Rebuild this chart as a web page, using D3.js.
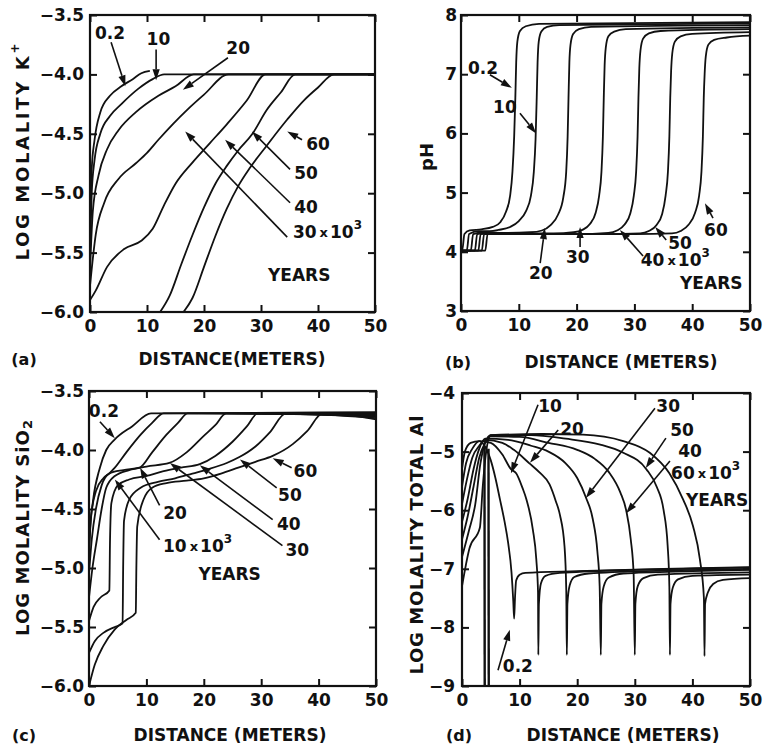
<!DOCTYPE html>
<html><head><meta charset="utf-8">
<script src="https://cdn.jsdelivr.net/npm/d3@7"></script>
<style>
body{margin:0;background:#fff}
svg text{font-family:"DejaVu Sans",Arial,sans-serif;font-weight:bold;fill:#111}
</style></head><body>
<svg id="chart" width="766" height="746"></svg>
<script>
// ---------------- DATA ----------------
const xTicks = [0, 10, 20, 30, 40, 50];
const yearLabels = ["0.2", "10", "20", "30", "40", "50", "60"];

// (a) log molality K+
const kTicks = [-6.0, -5.5, -5.0, -4.5, -4.0, -3.5];
const k02 = [[0,-5.25],[0.3,-4.8],[0.8,-4.55],[1.8,-4.32],[3.5,-4.18],[5.5,-4.1],[7.5,-4.04],[9,-3.99],[10.5,-3.97]];
const k10 = [[0,-5.5],[0.3,-5.0],[0.8,-4.72],[1.8,-4.5],[3.5,-4.35],[5.5,-4.25],[8.5,-4.12],[11,-4.04],[13,-4.0],[50,-4.0]];
const k20 = [[0,-5.65],[0.5,-5.15],[1.5,-4.85],[3,-4.63],[5,-4.47],[8,-4.32],[12,-4.18],[15,-4.1],[18.2,-4.0],[50,-4.0]];
const k30 = [[0,-5.78],[1,-5.35],[2.5,-5.08],[5,-4.88],[8,-4.75],[10,-4.66],[12,-4.55],[14.5,-4.42],[17,-4.3],[20,-4.17],[24.3,-4.0],[50,-4.0]];
const k40 = [[0,-5.9],[1,-5.82],[3,-5.62],[6,-5.47],[9,-5.4],[11,-5.3],[13,-5.1],[15,-4.92],[18,-4.74],[21,-4.58],[24,-4.42],[27.5,-4.22],[30.8,-4.0],[50,-4.0]];
const k50 = [[12.3,-6.0],[14,-5.86],[16,-5.6],[18,-5.35],[20,-5.12],[22,-4.92],[24,-4.77],[26,-4.64],[28.5,-4.5],[31,-4.3],[33.5,-4.15],[36,-4.0],[50,-4.0]];
const k60 = [[16.4,-6.0],[18,-5.88],[20,-5.62],[22,-5.36],[24,-5.13],[26,-4.94],[28,-4.79],[31,-4.6],[34.6,-4.38],[37.5,-4.22],[40,-4.11],[42.8,-4.0],[50,-4.0]];
const kCurves = [k02, k10, k20, k30, k40, k50, k60];

// (b) pH
const phTicks = [3, 4, 5, 6, 7, 8];
const p02 = [[0,4.02],[0.2,4.02],[0.6,4.3],[1.5,4.36],[3.5,4.38],[5.5,4.42],[6.8,4.5],[7.8,4.68],[8.5,4.95],[8.9,5.35],[9.2,5.95],[9.4,6.6],[9.55,7.2],[9.75,7.55],[10.2,7.73],[11.2,7.81],[13.5,7.85],[50,7.88]];
const p10 = [[0,4.02],[1.0,4.02],[1.4,4.3],[3,4.35],[5,4.35],[6.5,4.37],[8.5,4.42],[10,4.52],[11.2,4.68],[12.1,4.95],[12.6,5.35],[12.9,5.9],[13.1,6.6],[13.25,7.2],[13.45,7.55],[13.9,7.72],[14.9,7.8],[17,7.83],[50,7.86]];
const p20 = [[0,4.02],[1.7,4.02],[2.1,4.3],[4,4.33],[8,4.32],[12,4.33],[14,4.36],[15.5,4.45],[16.8,4.63],[17.7,4.92],[18.2,5.35],[18.45,5.95],[18.6,6.6],[18.75,7.2],[18.95,7.5],[19.4,7.68],[20.4,7.76],[22.5,7.8],[50,7.83]];
const p30 = [[0,4.02],[2.4,4.02],[2.8,4.3],[5,4.32],[10,4.31],[16,4.31],[19.5,4.33],[21,4.37],[22.3,4.47],[23.3,4.66],[23.9,4.95],[24.3,5.35],[24.55,5.95],[24.7,6.6],[24.85,7.15],[25.05,7.45],[25.5,7.64],[26.5,7.72],[28.5,7.76],[50,7.79]];
const p40 = [[0,4.02],[3.0,4.02],[3.4,4.3],[6,4.31],[12,4.3],[20,4.3],[25.5,4.32],[27,4.36],[28.3,4.46],[29.3,4.65],[29.9,4.95],[30.3,5.35],[30.55,5.95],[30.7,6.6],[30.85,7.1],[31.05,7.4],[31.5,7.6],[32.5,7.69],[34.5,7.73],[50,7.76]];
const p50 = [[0,4.02],[3.6,4.02],[4.0,4.3],[7,4.3],[15,4.3],[25,4.3],[31,4.31],[32.5,4.35],[33.8,4.45],[34.8,4.64],[35.4,4.95],[35.8,5.35],[36.05,5.95],[36.2,6.6],[36.35,7.05],[36.55,7.35],[37,7.55],[38,7.64],[40,7.68],[50,7.71]];
const p60 = [[0,4.02],[4.2,4.02],[4.6,4.3],[8,4.3],[20,4.3],[30,4.3],[36.5,4.31],[38,4.35],[39.4,4.46],[40.5,4.66],[41.2,4.95],[41.6,5.35],[41.85,5.95],[42,6.6],[42.15,7.0],[42.35,7.3],[42.8,7.5],[43.8,7.58],[46,7.62],[50,7.65]];
const phCurves = [p02, p10, p20, p30, p40, p50, p60];

// (c) log molality SiO2
const siTicks = [-6.0, -5.5, -5.0, -4.5, -4.0, -3.5];
const s02 = [[0,-4.95],[0.15,-4.7],[0.7,-4.43],[1.9,-4.15],[3,-4.0],[4.5,-3.91],[7.5,-3.8],[10.8,-3.69],[50,-3.68]];
const s10 = [[0,-4.85],[0.4,-4.55],[1.2,-4.35],[2.5,-4.24],[3.5,-4.2],[4.5,-4.15],[6.5,-4.02],[9,-3.87],[11,-3.77],[13,-3.69],[50,-3.69]];
const s20 = [[0,-5.05],[0.5,-4.75],[1.2,-4.5],[2.2,-4.3],[3.5,-4.2],[6,-4.17],[8.8,-4.15],[11,-4.02],[13.5,-3.87],[15.5,-3.77],[17.2,-3.69],[50,-3.7]];
const s30 = [[0,-5.25],[0.6,-5.0],[1.4,-4.75],[2.2,-4.5],[3,-4.32],[4.5,-4.22],[7,-4.17],[10,-4.14],[14,-4.11],[17,-4.02],[20,-3.88],[22,-3.79],[23.9,-3.69],[50,-3.71]];
const s40 = [[0,-5.45],[0.8,-5.33],[2,-5.25],[3.55,-5.19],[3.65,-4.8],[3.9,-4.45],[5,-4.3],[7,-4.25],[10,-4.22],[13,-4.18],[16,-4.15],[19.3,-4.12],[22,-4.05],[25,-3.93],[27.5,-3.8],[29.4,-3.69],[50,-3.72]];
const s50 = [[0,-5.72],[1,-5.62],[2.5,-5.55],[4.5,-5.5],[5.85,-5.47],[5.95,-5.0],[6.1,-4.6],[7,-4.42],[9,-4.32],[12,-4.27],[15,-4.24],[18,-4.2],[21,-4.16],[24,-4.11],[26.2,-4.06],[29,-3.97],[31.5,-3.85],[34.3,-3.69],[50,-3.73]];
const s60 = [[0,-6.0],[1,-5.82],[2.5,-5.66],[4.5,-5.52],[6.5,-5.44],[8.15,-5.38],[8.25,-5.0],[8.4,-4.65],[9.5,-4.42],[11,-4.32],[13.5,-4.28],[17,-4.26],[20,-4.24],[23,-4.2],[26,-4.15],[29,-4.1],[32,-4.05],[35.5,-3.95],[38,-3.84],[40.7,-3.69],[50,-3.74]];
const siCurves = [s02, s10, s20, s30, s40, s50, s60];

// (d) log molality total Al
const alTicks = [-9, -8, -7, -6, -5, -4];
const a02 = [[0,-5.3],[0.5,-5.0],[1.5,-4.85],[3,-4.82],[4.2,-4.95],[5,-5.15],[5.8,-5.45],[6.6,-5.82],[7.4,-6.2],[8.0,-6.55],[8.6,-7.07],[8.9,-7.55],[9.05,-7.85],[9.2,-7.5],[9.4,-7.2],[10,-7.1],[11,-7.07],[20,-7.04],[35,-7.0],[50,-6.97]];
const a10 = [[0,-5.6],[0.7,-5.2],[1.8,-4.95],[3,-4.82],[5,-4.85],[7,-5.05],[8.5,-5.3],[9.4,-5.37],[10.5,-5.62],[11.2,-5.82],[12.3,-6.33],[12.9,-6.84],[13.2,-7.4],[13.25,-8.47],[13.35,-7.6],[13.7,-7.25],[14.5,-7.12],[17,-7.07],[30,-7.02],[50,-6.98]];
const a20 = [[0,-5.9],[0.8,-5.5],[1.8,-5.1],[3,-4.9],[4,-4.8],[7,-4.85],[9,-4.97],[11.7,-5.2],[13.5,-5.36],[15.2,-5.56],[16.3,-5.85],[17,-6.08],[17.8,-6.62],[18.1,-7.36],[18.2,-8.47],[18.3,-7.6],[18.7,-7.28],[19.5,-7.14],[22,-7.08],[35,-7.03],[50,-7.0]];
const a30 = [[0,-6.2],[1,-5.8],[2,-5.3],[3,-4.95],[4,-4.78],[8,-4.8],[12,-4.9],[15,-5.0],[18,-5.2],[20,-5.45],[21.5,-5.78],[22.7,-6.15],[23.5,-6.7],[23.9,-7.3],[24.1,-8.47],[24.2,-7.6],[24.6,-7.3],[25.5,-7.15],[28,-7.08],[40,-7.04],[50,-7.02]];
const a40 = [[0,-6.5],[1,-6.1],[2,-5.6],[3,-5.1],[4,-4.85],[5,-4.74],[10,-4.75],[15,-4.85],[20,-4.97],[23,-5.12],[25.5,-5.35],[27.5,-5.7],[28.5,-6.0],[29.3,-6.5],[29.8,-7.1],[30,-8.47],[30.1,-7.6],[30.5,-7.3],[31.5,-7.16],[34,-7.1],[50,-7.06]];
const a50 = [[0,-6.8],[1.2,-6.35],[2.3,-5.9],[3.2,-5.2],[4,-4.85],[5,-4.72],[12,-4.72],[18,-4.78],[24,-4.88],[28,-5.02],[32,-5.3],[33.8,-5.6],[35,-6.0],[35.7,-6.6],[36,-7.3],[36.1,-8.47],[36.2,-7.6],[36.6,-7.32],[37.5,-7.18],[40,-7.12],[50,-7.1]];
const a60 = [[0,-7.3],[1.3,-6.65],[3.1,-6.3],[3.6,-5.6],[4.2,-5.0],[5,-4.72],[14,-4.7],[21,-4.71],[28,-4.82],[32.6,-5.02],[36,-5.37],[38.4,-5.82],[40.1,-6.27],[41.3,-6.84],[42,-7.5],[42.1,-8.49],[42.2,-7.6],[42.7,-7.4],[43.6,-7.26],[45.3,-7.19],[50,-7.16]];
const alSpikeA = [[3.9,-4.9],[3.95,-9.6]];
const alSpikeB = [[4.6,-4.95],[4.65,-9.6]];
const alCurves = [a02, a10, a20, a30, a40, a50, a60];

// ---------------- LAYOUT ----------------
const panels = [
  { box:{l:90,r:375,t:15,b:312}, yDom:[-6,-3.5], yTicks:kTicks, yFmt:d3.format(".1f"), yPad:6,
    curves:kCurves, straight:[], tag:"(a)", xTitleX:232, xTitle:"DISTANCE(METERS)", titleY:365, tagX:24,
    yTitle:[{t:"LOG MOLALITY K"},{t:"+",sup:true}], yTitleX:22, yTitleY:152, yTitleLen:217,
    notes:[
      {t:"0.2", at:[3.5,-3.65], from:[3.7,-3.73], to:[6.2,-4.1]},
      {t:"10", at:[12.0,-3.7], from:[11.6,-3.79], to:[11.6,-4.05]},
      {t:"20", at:[26,-3.78], from:[24.2,-3.86], to:[16.3,-4.13]},
      {t:"60", at:[40,-4.59], from:[37.2,-4.55], to:[34.6,-4.48]},
      {t:"50", at:[37.9,-4.83], from:[35.1,-4.8], to:[28.4,-4.48]},
      {t:"40", at:[37.9,-5.12], from:[35.1,-5.08], to:[23.7,-4.55]},
      {t:"30", mult:true, at:[35.6,-5.33], anchor:"start", from:[34.6,-5.37], to:[16.7,-4.48]},
      {t:"YEARS", at:[36.7,-5.69]}
    ]},
  { box:{l:461,r:750,t:15,b:311}, yDom:[3,8], yTicks:phTicks, yFmt:d3.format("d"), yPad:4,
    curves:phCurves, straight:[], tag:"(b)", xTitleX:621, xTitle:"DISTANCE (METERS)", titleY:368, tagX:458,
    yTitle:[{t:"pH"}], yTitleX:426, yTitleY:157, yTitleLen:0,
    notes:[
      {t:"0.2", at:[3.8,7.1], from:[5.0,6.99], to:[8.8,6.77]},
      {t:"10", at:[7.6,6.45], from:[10.2,6.34], to:[13.0,6.0]},
      {t:"20", at:[13.8,3.64], from:[13.7,3.81], to:[14.5,4.4]},
      {t:"30", at:[20.2,3.91], from:[20.6,4.08], to:[20.6,4.42]},
      {t:"40", mult:true, at:[31.1,3.86], anchor:"start", from:[31.5,3.93], to:[27.5,4.37]},
      {t:"50", at:[37.9,4.15], from:[35.5,4.2], to:[33.6,4.42]},
      {t:"60", at:[44.1,4.37], from:[43.6,4.57], to:[42.2,4.82]},
      {t:"YEARS", at:[43.3,3.47]}
    ]},
  { box:{l:89,r:376,t:391,b:686}, yDom:[-6,-3.5], yTicks:siTicks, yFmt:d3.format(".1f"), yPad:5,
    curves:siCurves, straight:[], tag:"(c)", xTitleX:230, xTitle:"DISTANCE (METERS)", titleY:741, tagX:24,
    yTitle:[{t:"LOG MOLALITY SiO"},{t:"2",sub:true}], yTitleX:22, yTitleY:528, yTitleLen:216,
    notes:[
      {t:"0.2", at:[2.6,-3.67], from:[1.9,-3.76], to:[4.5,-3.9]},
      {t:"20", at:[15,-4.53], from:[12.3,-4.47], to:[8.9,-4.15]},
      {t:"10", mult:true, at:[12.9,-4.81], anchor:"start", from:[12.3,-4.76], to:[4.5,-4.25]},
      {t:"YEARS", at:[24.5,-5.05]},
      {t:"60", at:[37.7,-4.18], from:[35.3,-4.15], to:[32,-4.07]},
      {t:"50", at:[35,-4.38], from:[32.7,-4.32], to:[26.3,-4.08]},
      {t:"40", at:[34.8,-4.63], from:[32,-4.59], to:[19.3,-4.13]},
      {t:"30", at:[36.3,-4.85], from:[33.7,-4.81], to:[14.1,-4.11]}
    ]},
  { box:{l:462,r:750,t:393,b:686}, yDom:[-9,-4], yTicks:alTicks, yFmt:d3.format("d"), yPad:7,
    curves:alCurves, straight:[alSpikeA, alSpikeB], tag:"(d)", xTitleX:623, xTitle:"DISTANCE (METERS)", titleY:741, tagX:459,
    yTitle:[{t:"LOG MOLALITY TOTAL Al"}], yTitleX:416, yTitleY:545, yTitleLen:259,
    notes:[
      {t:"10", at:[15.3,-4.22], from:[13.2,-4.2], to:[8.5,-5.37]},
      {t:"20", at:[19.1,-4.61], from:[16.7,-4.63], to:[11.8,-5.19]},
      {t:"30", at:[35.8,-4.22], from:[33.5,-4.26], to:[21.5,-5.79]},
      {t:"50", at:[38.2,-4.63], from:[35.4,-4.77], to:[31.9,-5.28]},
      {t:"40", at:[39.6,-4.99], from:[36.1,-5.16], to:[28.5,-6.05]},
      {t:"60", mult:true, at:[36.3,-5.37], anchor:"start"},
      {t:"YEARS", at:[44.3,-5.83]},
      {t:"0.2", at:[9.7,-8.66], from:[6.25,-8.73], to:[8.3,-8.04]}
    ]}
];

const svg = d3.select("#chart");
const FS = 17;
const FONT = '"DejaVu Sans", Arial, sans-serif';

panels.forEach((p, i) => {
  const b = p.box;
  const x = d3.scaleLinear().domain([0, 50]).range([b.l, b.r]);
  const y = d3.scaleLinear().domain(p.yDom).range([b.b, b.t]);
  const g = svg.append("g");

  const clipId = "clip" + i;
  svg.append("clipPath").attr("id", clipId).append("rect")
    .attr("x", b.l).attr("y", b.t).attr("width", b.r - b.l).attr("height", b.b - b.t);

  const line = d3.line().x(d => x(d[0])).y(d => y(d[1])).curve(d3.curveMonotoneX);
  const lineStraight = d3.line().x(d => x(d[0])).y(d => y(d[1]));

  const cg = g.append("g").attr("clip-path", `url(#${clipId})`);
  cg.selectAll("path.c").data(p.curves).join("path")
    .attr("d", line).attr("fill", "none").attr("stroke", "#111")
    .attr("stroke-width", 1.8).attr("stroke-linejoin", "round");
  cg.selectAll("path.s").data(p.straight).join("path")
    .attr("d", lineStraight).attr("fill", "none").attr("stroke", "#111").attr("stroke-width", 2.4);

  const ax = (axis, tx, ty, labels) => {
    const a = g.append("g").attr("transform", `translate(${tx},${ty})`).call(axis);
    a.select(".domain").remove();
    a.selectAll(".tick line").attr("stroke", "#111").attr("stroke-width", 2);
    a.selectAll("text").attr("font-size", FS).attr("fill", "#111")
      .style("font-family", FONT).style("font-weight", "bold");
    if (!labels) a.selectAll("text").remove();
    return a;
  };
  ax(d3.axisBottom(x).tickValues(xTicks).tickSize(-7).tickPadding(8).tickFormat(d3.format("d")), 0, b.b, true);
  ax(d3.axisTop(x).tickValues(xTicks).tickSize(-7), 0, b.t, false);
  ax(d3.axisLeft(y).tickValues(p.yTicks).tickSize(-7).tickPadding(p.yPad).tickFormat(p.yFmt), b.l, 0, true);
  ax(d3.axisRight(y).tickValues(p.yTicks).tickSize(-7), b.r, 0, false);

  g.append("rect").attr("x", b.l).attr("y", b.t).attr("width", b.r - b.l).attr("height", b.b - b.t)
    .attr("fill", "none").attr("stroke", "#111").attr("stroke-width", 2.2);

  g.append("text").attr("x", p.xTitleX).attr("y", p.titleY).attr("text-anchor", "middle")
    .attr("font-size", FS).text(p.xTitle);
  g.append("text").attr("x", p.tagX).attr("y", p.titleY).attr("text-anchor", "middle")
    .attr("font-size", FS - 1).text(p.tag);
  const yt = g.append("text").attr("transform", `translate(${p.yTitleX},${p.yTitleY}) rotate(-90)`)
    .attr("text-anchor", "middle").attr("dominant-baseline", "central").attr("font-size", FS + 1);
  if (p.yTitleLen) yt.attr("textLength", p.yTitleLen).attr("lengthAdjust", "spacing");
  p.yTitle.forEach(s => {
    const ts = yt.append("tspan").text(s.t);
    if (s.sup) ts.attr("font-size", 12).attr("dy", -7);
    if (s.sub) ts.attr("font-size", 13).attr("dy", 5);
  });

  p.notes.forEach(n => {
    const t = g.append("text").attr("x", x(n.at[0])).attr("y", y(n.at[1]))
      .attr("text-anchor", n.anchor || "middle").attr("dominant-baseline", "central")
      .attr("font-size", FS);
    t.append("tspan").text(n.t);
    if (n.mult) {
      t.append("tspan").attr("font-size", 13).attr("dx", 3).text("x");
      t.append("tspan").attr("dx", 2).text("10");
      t.append("tspan").attr("font-size", 12).attr("dy", -7).text("3");
    }
    if (n.from) {
      const x1 = x(n.from[0]), y1 = y(n.from[1]), x2 = x(n.to[0]), y2 = y(n.to[1]);
      const ang = Math.atan2(y2 - y1, x2 - x1);
      const L = 11, W = 3.6;
      const bx = x2 - L * Math.cos(ang), by = y2 - L * Math.sin(ang);
      g.append("line").attr("x1", x1).attr("y1", y1).attr("x2", bx).attr("y2", by)
        .attr("stroke", "#111").attr("stroke-width", 1.6);
      g.append("path").attr("d", `M${x2},${y2}L${bx - W * Math.sin(ang)},${by + W * Math.cos(ang)}L${bx + W * Math.sin(ang)},${by - W * Math.cos(ang)}Z`)
        .attr("fill", "#111");
    }
  });
});
</script></body></html>
